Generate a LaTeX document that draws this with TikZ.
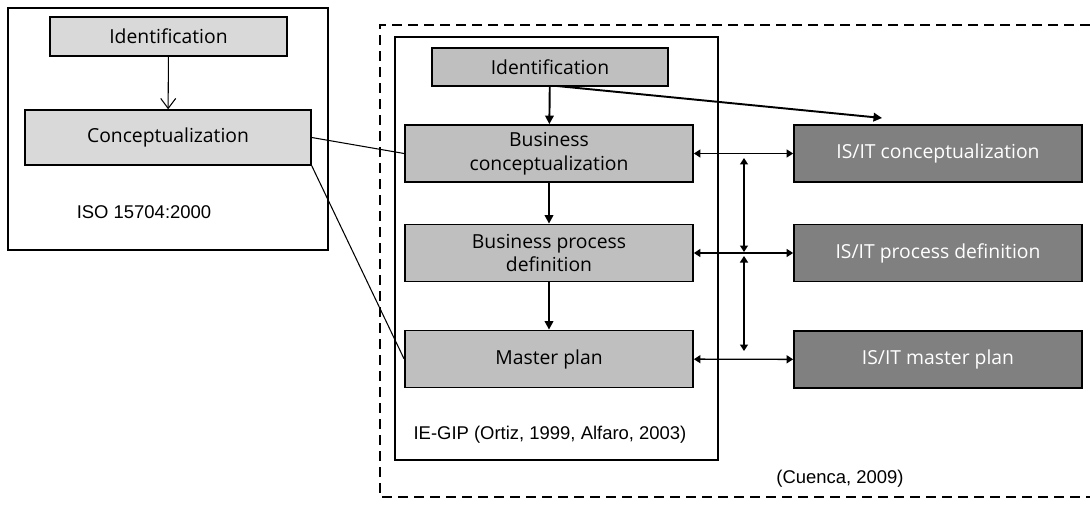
\documentclass[tikz,border=0pt]{standalone}
\usepackage{fontspec}
\setmainfont{Open Sans}
\newfontfamily\capfont{Liberation Sans}
\usetikzlibrary{arrows.meta,positioning}

\begin{document}
\begin{tikzpicture}[x=0.2mm,y=-0.2mm,
    box/.style={draw, line width=1pt, minimum width=57.6mm, minimum height=11.4mm,
      align=center, inner sep=1pt, font=\fontsize{11}{13.5}\selectfont},
    oldbox/.style={box, fill=black!15, line width=0.8pt},
    phase/.style={box, fill=black!25},
    isit/.style={box, fill=black!50, text=white},
    cite/.style={font=\capfont\fontsize{10.5}{12}\selectfont},
    link/.style={line width=0.6pt},
    flow/.style={line width=1.1pt, -{Triangle[length=1.7mm,width=1.7mm]}},
    both/.style={line width=0.8pt, {Triangle[length=1.3mm,width=1.6mm]}-{Triangle[length=1.3mm,width=1.6mm]}}]

  \useasboundingbox (0,0) rectangle (1090,506);

  % ISO 15704
  \draw[line width=0.8pt] (8,8) rectangle (328,250);
  \node[oldbox, minimum width=47.4mm, minimum height=7.8mm] (ident0) at (168.5,36.5) {Identification};
  \node[oldbox, minimum width=57.2mm, minimum height=11mm] (conc0) at (168,137.5) {Conceptualization};
  \node[cite] (iso) at (144,212) {ISO 15704:2000};
  \draw[link, -{Straight Barb[length=2mm,width=3mm]}] (ident0) -- (conc0);

  % Cuenca / IE-GIP
  \draw[line width=0.8pt, dash pattern=on 2mm off 1.2mm] (1090,25) -| (380,497) -- (1090,497);
  \draw[line width=0.8pt] (395,37) rectangle (718,460);
  \node[phase, minimum width=47.2mm, minimum height=7.6mm] (ident) at (550,67) {Identification};
  \node[phase] (bconc) at (549,153.5) {Business\\conceptualization};
  \node[phase] (bpd) at (549,253) {Business process\\definition};
  \node[phase] (mplan) at (549,359) {Master plan};
  \node[isit] (isconc) at (938,153.5) {IS/IT conceptualization};
  \node[isit] (ispd) at (938,253) {IS/IT process definition};
  \node[isit] (isplan) at (938,359.5) {IS/IT master plan};
  \node[cite] (iegip) at (550,435) {IE-GIP (Ortiz, 1999, Alfaro, 2003)};
  \node[cite] (cuenca) at (840,479) {(Cuenca, 2009)};

  \coordinate (start) at (557,86);
  \coordinate (tip) at (882,118);
  \coordinate (v1) at (744,158);
  \coordinate (v2) at (744,252);
  \coordinate (v3) at (744,256);
  \coordinate (v4) at (744,351);

  \draw[flow] (ident) -- (bconc);
  \draw[flow] (bconc) -- (bpd);
  \draw[flow] (bpd) -- (mplan);
  \draw[flow] (start) -- (tip);

  \draw[both] (bconc) -- (isconc);
  \draw[both] (bpd) -- (ispd);
  \draw[both] (mplan) -- (isplan);
  \draw[both] (v1) -- (v2);
  \draw[both] (v3) -- (v4);

  \draw[link] (conc0.east) -- (bconc.west);
  \draw[link] (conc0.south east) -- (mplan.west);
\end{tikzpicture}
\end{document}
